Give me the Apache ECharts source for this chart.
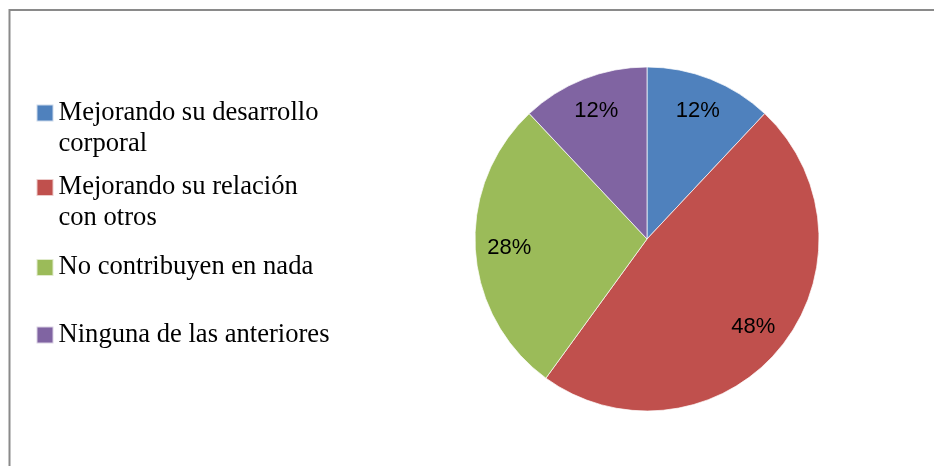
<!DOCTYPE html>
<html>
<head>
<meta charset="utf-8">
<script src="https://cdn.jsdelivr.net/npm/echarts@6/dist/echarts.min.js"></script>
<style>
  html, body { margin: 0; padding: 0; background: #fff; }
  #chart { width: 934px; height: 466px; }
</style>
</head>
<body>
<div id="chart"></div>
<script>
// datos
const categories = [
  'Mejorando su desarrollo\ncorporal',
  'Mejorando su relación\ncon otros',
  'No contribuyen en nada',
  'Ninguna de las anteriores'
]
const values = [12, 48, 28, 12]
const colors = ['#4F81BD', '#C0504D', '#9BBB59', '#8064A2']

const chart = echarts.init(document.getElementById('chart'))

const pieData = categories.map((name, i) => {
  return { name: name, value: values[i], itemStyle: { color: colors[i] } }
})

// una leyenda por elemento; linea vacia arriba para que el icono quede con la primera linea
const legendTops = [66.5, 141, 252, 319.5]
const legends = categories.map((name, i) => {
  return {
    orient: 'vertical',
    left: 35.5,
    top: legendTops[i],
    padding: 0,
    itemWidth: 17,
    itemHeight: 17,
    icon: 'rect',
    selectedMode: false,
    formatter: (n) => n.indexOf('\n') >= 0 ? '\n' + n : n,
    textStyle: {
      fontFamily: 'Liberation Serif',
      fontSize: 26.6,
      lineHeight: 31,
      color: '#000'
    },
    data: [name]
  }
})

const option = {
  animation: false,
  backgroundColor: '#fff',
  graphic: [{
    type: 'rect',
    shape: { x: 9.5, y: 10, width: 2000, height: 2000 },
    style: { fill: 'none', stroke: '#8a8a8a', lineWidth: 2 },
    silent: true
  }],
  legend: legends,
  series: [
    {
      type: 'pie',
      center: [647, 239],
      radius: 172,
      startAngle: 90,
      label: { show: false },
      labelLine: { show: false },
      itemStyle: { borderColor: 'rgba(255,255,255,0.7)', borderWidth: 1 },
      emphasis: { disabled: true },
      data: pieData
    },
    {
      // solo para colocar los porcentajes mas cerca del borde
      type: 'pie',
      center: [647, 239],
      radius: [98, 172],
      startAngle: 90,
      silent: true,
      itemStyle: { color: 'rgba(0,0,0,0)' },
      label: {
        show: true,
        position: 'inside',
        formatter: '{d}%',
        fontFamily: 'Liberation Sans',
        fontSize: 22,
        color: '#000'
      },
      labelLine: { show: false },
      data: categories.map((name, i) => ({ name: name, value: values[i] }))
    }
  ]
}

chart.setOption(option)
</script>
</body>
</html>
